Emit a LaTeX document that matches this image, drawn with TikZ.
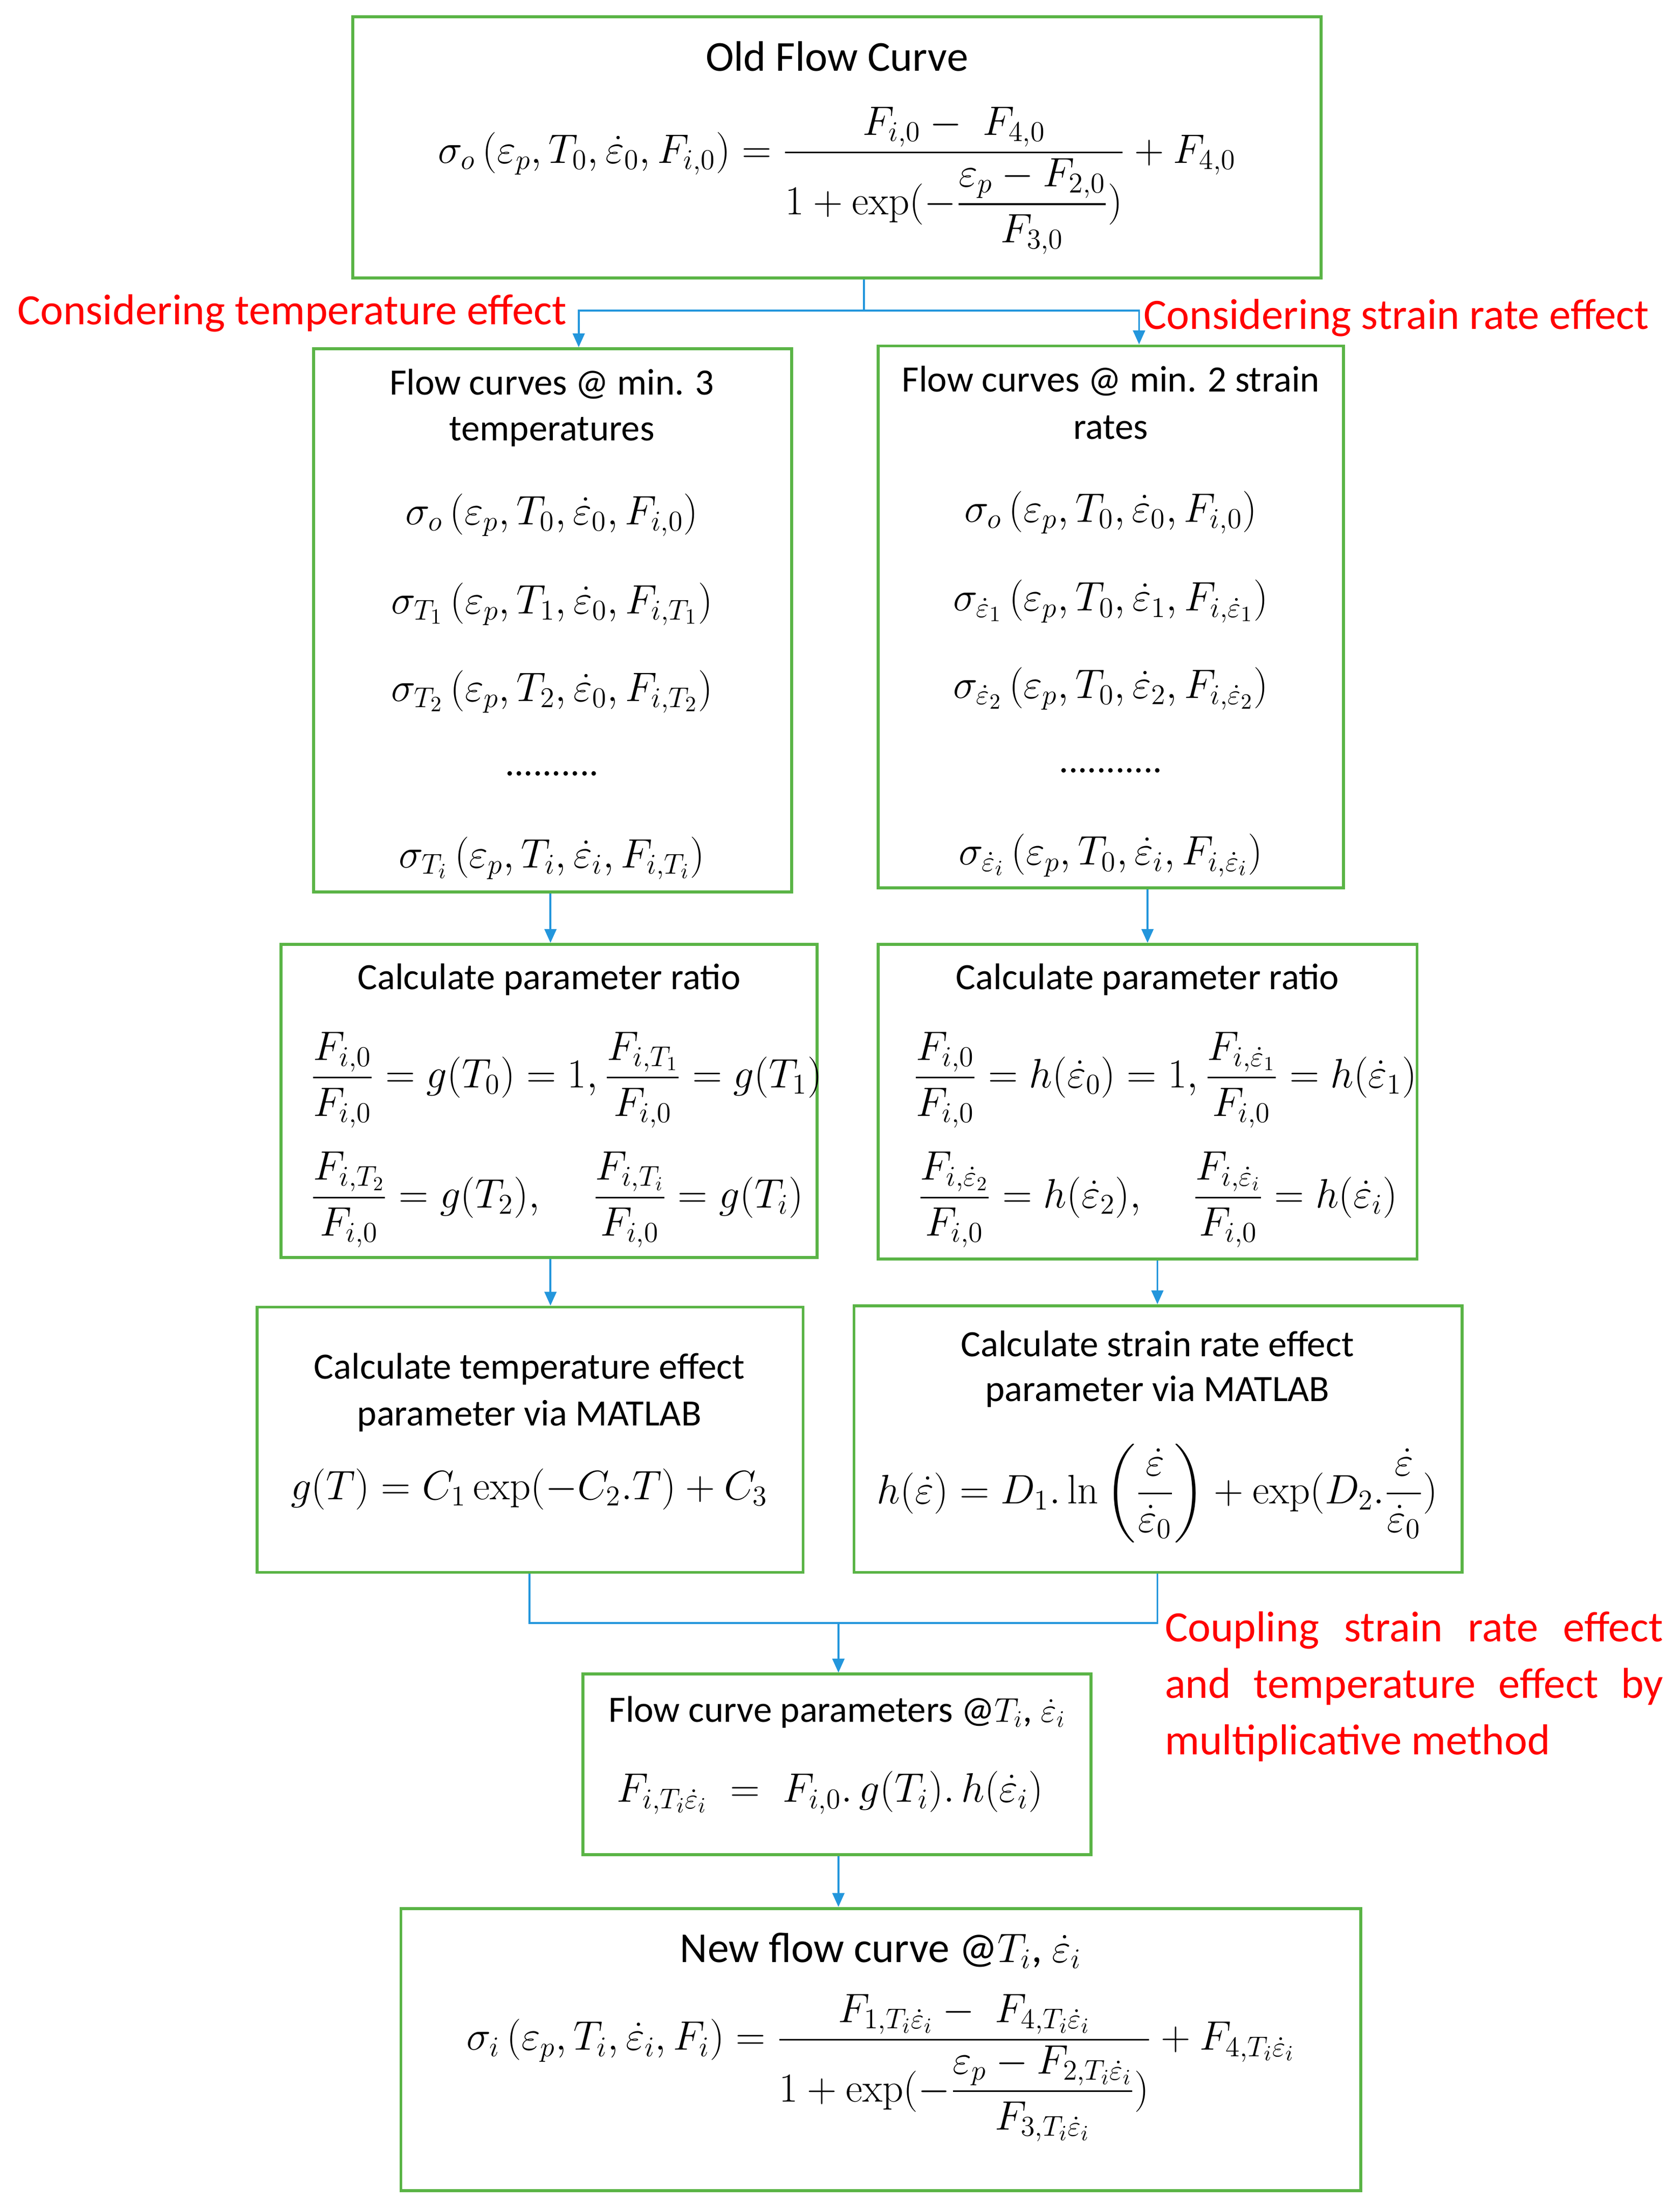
\documentclass[tikz,border=0pt]{standalone}
\usepackage{amsmath}
\usepackage[no-math]{fontspec}
\setmainfont{Carlito}
\usetikzlibrary{arrows.meta}
\definecolor{bgreen}{RGB}{90,180,70}
\definecolor{ablue}{RGB}{35,150,220}
\begin{document}
\begin{tikzpicture}[x=0.025cm,y=-0.025cm,
 box/.style={draw=bgreen,line width=1.5pt,inner sep=0},
 txt/.style={font=\fontsize{18.7}{22}\selectfont,inner sep=0},
 big/.style={font=\fontsize{21.5}{25}\selectfont,inner sep=0},
 mth/.style={font=\fontsize{22.5}{27}\selectfont,inner sep=0},
 smth/.style={font=\fontsize{20.5}{25}\selectfont,inner sep=0},
 red/.style={font=\fontsize{21.8}{26}\selectfont,text=red,inner sep=0},
 con/.style={draw=ablue,line width=1pt},
 arr/.style={con,-{Triangle[length=7pt,width=6pt]}}]
\useasboundingbox (0,0) rectangle (1190,1565);
\newcommand{\bx}[5]{\node[box,minimum width=#4*0.025cm-1.5pt,minimum height=#5*0.025cm-1.5pt] (#1) at (#2+#4/2,#3+#5/2) {};}
\bx{b1}{249}{11}{688}{187}
\bx{b2}{221}{246}{341}{387}
\bx{b3}{621}{244}{332}{386}
\bx{b4}{198}{668}{382}{224}
\bx{b5}{621}{668}{384}{225}
\bx{b6}{181}{925}{389}{190}
\bx{b7}{604}{924}{433}{191}
\bx{b8}{412}{1185}{362}{130}
\bx{b9}{283}{1351}{682}{202}
% box 1
\node[big] (t1) at (593,40) {Old Flow Curve};
\node[mth] (f1) at (593,128) {$\sigma_o\left(\varepsilon_p,T_0,\dot\varepsilon_0,F_{i,0}\right)=\dfrac{F_{i,0}-\;F_{4,0}}{1+\exp(-\dfrac{\varepsilon_p-F_{2,0}}{F_{3,0}})}+F_{4,0}$};
\node[red,anchor=west] (r1) at (12,222) {Considering temperature effect};
\node[red,anchor=west] (r2) at (810,225) {Considering strain rate effect};
% box 2
\node[txt] at (391,272) {Flow curves @ min. 3};
\node[txt] at (391,306) {temperatures};
\node[mth] at (391,365) {$\sigma_o\left(\varepsilon_p,T_0,\dot\varepsilon_0,F_{i,0}\right)$};
\node[mth] at (391,428) {$\sigma_{T_1}\left(\varepsilon_p,T_1,\dot\varepsilon_0,F_{i,T_1}\right)$};
\node[mth] at (391,490) {$\sigma_{T_2}\left(\varepsilon_p,T_2,\dot\varepsilon_0,F_{i,T_2}\right)$};
\node[txt] at (391,548) {..........};
\node[mth] at (391,608) {$\sigma_{T_i}\left(\varepsilon_p,T_i,\dot\varepsilon_i,F_{i,T_i}\right)$};
% box 3
\node[txt] at (787,270) {Flow curves @ min. 2 strain};
\node[txt] at (787,303) {rates};
\node[mth] at (787,363) {$\sigma_o\left(\varepsilon_p,T_0,\dot\varepsilon_0,F_{i,0}\right)$};
\node[mth] at (787,426) {$\sigma_{\dot\varepsilon_1}\left(\varepsilon_p,T_0,\dot\varepsilon_1,F_{i,\dot\varepsilon_1}\right)$};
\node[mth] at (787,488) {$\sigma_{\dot\varepsilon_2}\left(\varepsilon_p,T_0,\dot\varepsilon_2,F_{i,\dot\varepsilon_2}\right)$};
\node[txt] at (787,546) {...........};
\node[mth] at (787,606) {$\sigma_{\dot\varepsilon_i}\left(\varepsilon_p,T_0,\dot\varepsilon_i,F_{i,\dot\varepsilon_i}\right)$};
% box 4
\node[txt] at (389,694) {Calculate parameter ratio};
\node[smth,anchor=west] at (220,765) {$\dfrac{F_{i,0}}{F_{i,0}}=g(T_0)=1,\dfrac{F_{i,T_1}}{F_{i,0}}=g(T_1)$};
\node[smth,anchor=west] at (220,850) {$\dfrac{F_{i,T_2}}{F_{i,0}}=g(T_2),$};
\node[smth,anchor=west] at (420,850) {$\dfrac{F_{i,T_i}}{F_{i,0}}=g(T_i)$};
% box 5
\node[txt] at (813,694) {Calculate parameter ratio};
\node[smth,anchor=west] at (647,765) {$\dfrac{F_{i,0}}{F_{i,0}}=h(\dot\varepsilon_0)=1,\dfrac{F_{i,\dot\varepsilon_1}}{F_{i,0}}=h(\dot\varepsilon_1)$};
\node[smth,anchor=west] at (650,850) {$\dfrac{F_{i,\dot\varepsilon_2}}{F_{i,0}}=h(\dot\varepsilon_2),$};
\node[smth,anchor=west] at (845,850) {$\dfrac{F_{i,\dot\varepsilon_i}}{F_{i,0}}=h(\dot\varepsilon_i)$};
% box 6
\node[txt] at (375,970) {Calculate temperature effect};
\node[txt] at (375,1003) {parameter via MATLAB};
\node[smth] at (375,1055) {$g(T)=C_1\exp(-C_2.T)+C_3$};
% box 7
\node[txt] at (820,952) {Calculate strain rate effect};
\node[txt] at (820,986) {parameter via MATLAB};
\node[smth] at (820,1058) {$h(\dot\varepsilon)=D_1.\ln\left(\dfrac{\dot\varepsilon}{\dot\varepsilon_0}\right)+\exp(D_2.\dfrac{\dot\varepsilon}{\dot\varepsilon_0})$};
% coupling
\node[red,anchor=west,align=left,font=\fontsize{21.8}{28.5}\selectfont] (r3) at (825,1195) {\makebox[353\dimexpr0.025cm][s]{Coupling strain rate effect}\\\makebox[353\dimexpr0.025cm][s]{and temperature effect by}\\multiplicative method};
% box 8
\node[txt] at (593,1213) {Flow curve parameters @$T_i$, $\dot\varepsilon_i$};
\node[mth] at (588,1270) {$F_{i,T_i\dot\varepsilon_i}\;=\;F_{i,0}.\,g(T_i).\,h(\dot\varepsilon_i)$};
% box 9
\node[big] at (624,1382) {New flow curve @$T_i$, $\dot\varepsilon_i$};
\node[mth] at (624,1465) {$\sigma_i\left(\varepsilon_p,T_i,\dot\varepsilon_i,F_i\right)=\dfrac{F_{1,T_i\dot\varepsilon_i}-\;F_{4,T_i\dot\varepsilon_i}}{1+\exp(-\dfrac{\varepsilon_p-F_{2,T_i\dot\varepsilon_i}}{F_{3,T_i\dot\varepsilon_i}})}+F_{4,T_i\dot\varepsilon_i}$};
% connectors
\coordinate (j1) at (612,220);
\draw[con] (b1.south -| j1) -- (j1);
\draw[arr] (j1) -| (b2.north -| 410,0);
\draw[arr] (j1) -| (b3.north -| 807,0);
\draw[arr] (b2.south -| 390,0) -- (b4.north -| 390,0);
\draw[arr] (b3.south -| 813,0) -- (b5.north -| 813,0);
\draw[arr] (b4.south -| 390,0) -- (b6.north -| 390,0);
\draw[arr] (b5.south -| 820,0) -- (b7.north -| 820,0);
\coordinate (j2) at (594,1150);
\draw[con] (b6.south -| 375,0) |- (j2);
\draw[con] (b7.south -| 820,0) |- (j2);
\draw[arr] (j2) -- (b8.north -| j2);
\draw[arr] (b8.south -| 594,0) -- (b9.north -| 594,0);
\end{tikzpicture}
\end{document}
